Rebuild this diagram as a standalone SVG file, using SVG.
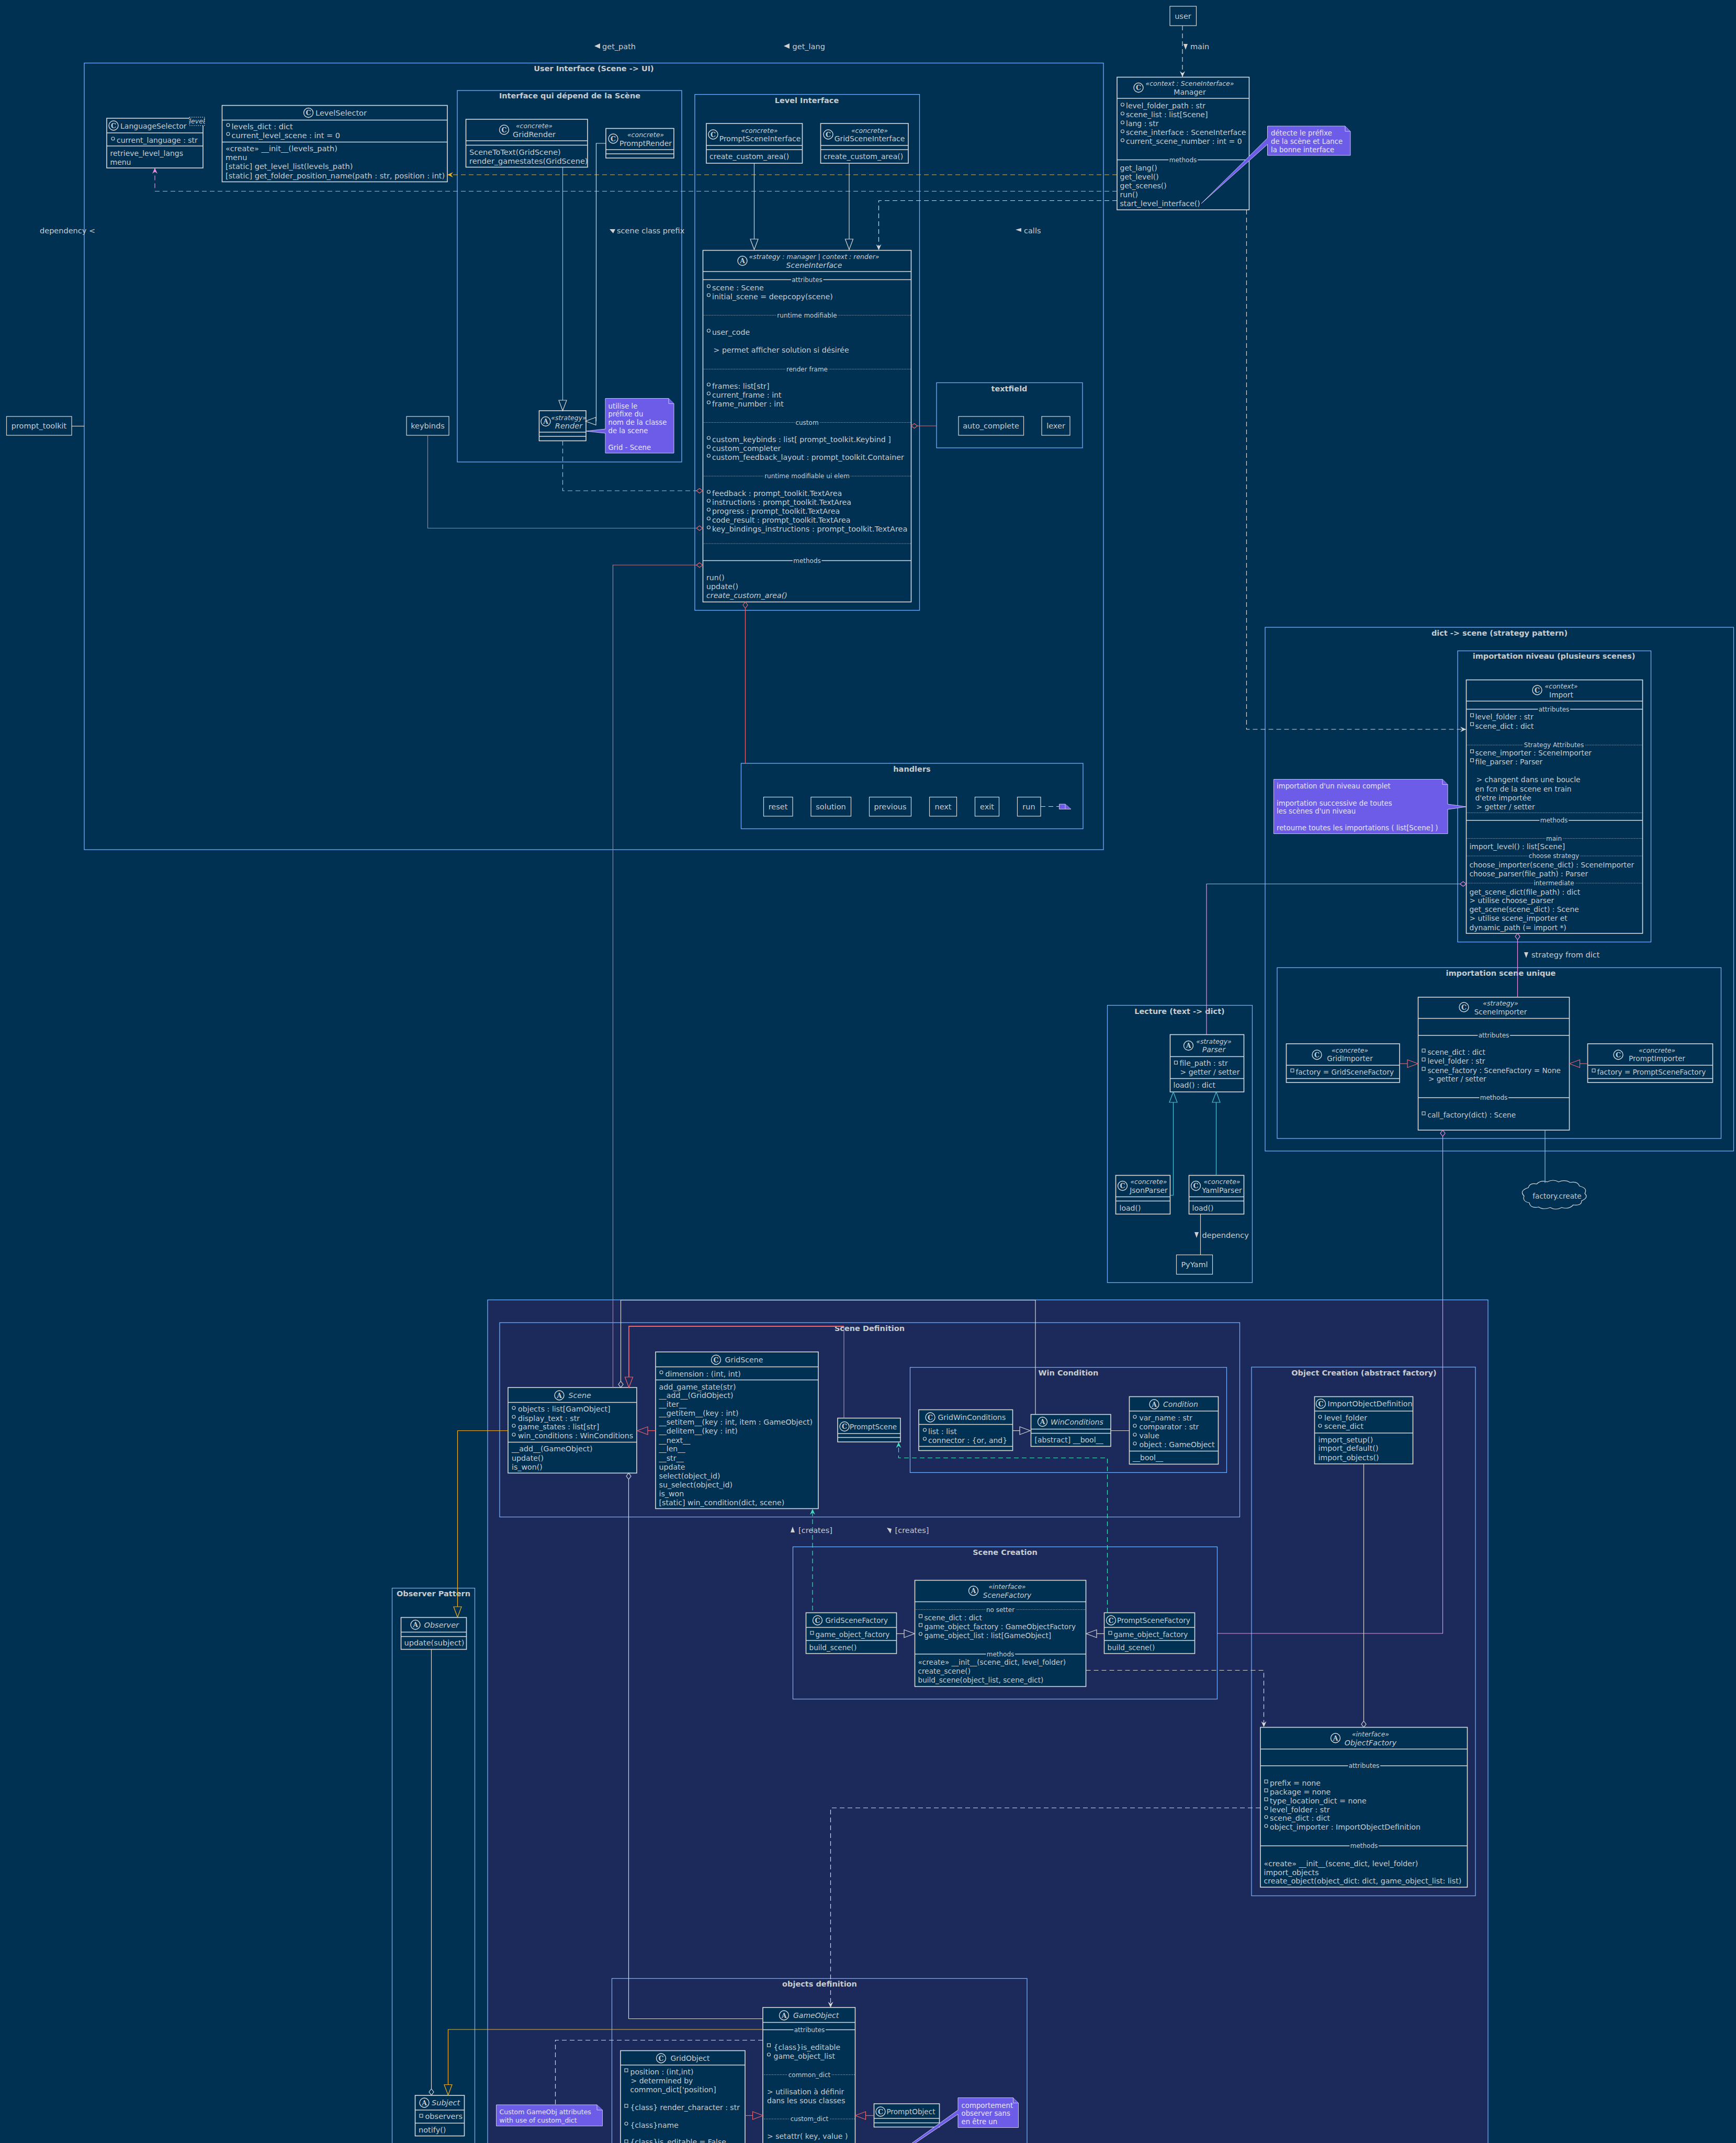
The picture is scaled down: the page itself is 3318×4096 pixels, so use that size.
<svg xmlns="http://www.w3.org/2000/svg" width="3318" height="4096" viewBox="0 0 3318 4096">
<style>
text{font-family:"DejaVu Sans",sans-serif;font-size:14.5px;fill:#C8CCCF}
.m{text-anchor:middle}
.i{font-style:italic}
.st{font-size:12.5px;font-style:italic;text-anchor:middle}
.b{font-weight:bold;font-size:14.5px;text-anchor:middle}
.sl{font-size:12px;text-anchor:middle;paint-order:stroke;stroke:#003153;stroke-width:5px}
.pkg{fill:none;stroke:#70B0FF;stroke-width:1.3}
.box{fill:#003153;stroke:#D9D9D9;stroke-width:1.6}
.sep{stroke:#D9D9D9;stroke-width:1.4;fill:none}
.dot{stroke:#D9D9D9;stroke-width:1;stroke-dasharray:1 2;fill:none}
.c{fill:#003153;stroke:#D9D9D9;stroke-width:1.4}
.l{font-weight:bold;font-size:12.5px;text-anchor:middle;font-family:"DejaVu Serif",serif}
.vc{fill:none;stroke:#D9D9D9;stroke-width:1.1}
.rect2{fill:none;stroke:#D9D9D9;stroke-width:1.2}
.note{fill:#6C5CE7;stroke:#C9C4F5;stroke-width:1}
.nt{font-size:13.3px;fill:#E8E6FA}
.f14 text{font-size:14px}
.f142 text{font-size:14.2px}
.f138 text{font-size:13.8px}
.f137 text{font-size:13.6px}
.f14 .st,.f142 .st,.f138 .st,.f137 .st{font-size:12.5px}
.f14 .sl,.f142 .sl,.f138 .sl,.f137 .sl{font-size:12px}
.f14 .l,.f142 .l,.f138 .l,.f137 .l{font-size:12.5px}
#note-custom text{font-size:12.5px}
.tri{fill:#D0D0D0;stroke:none}
.e{fill:none;stroke-width:1.2}
.w{stroke:#D9D9D9}.r{stroke:#F0656B}.p{stroke:#F08FE0}.o{stroke:#F5B21B}.t{stroke:#3FE0BE}.q{stroke:#4FC3D9}.a{stroke:#8FC4E8}
.d{stroke-dasharray:9 6}
</style>
<defs>
<marker id="gw" viewBox="-1 -9 23 18" refX="0" refY="0" markerWidth="23" markerHeight="18" markerUnits="userSpaceOnUse" orient="auto"><path d="M0,-7.5L20,0L0,7.5Z" fill="none" stroke="#D9D9D9" stroke-width="1.2"/></marker>
<marker id="gr" viewBox="-1 -9 23 18" refX="0" refY="0" markerWidth="23" markerHeight="18" markerUnits="userSpaceOnUse" orient="auto"><path d="M0,-7.5L20,0L0,7.5Z" fill="none" stroke="#F0656B" stroke-width="1.2"/></marker>
<marker id="go" viewBox="-1 -9 23 18" refX="0" refY="0" markerWidth="23" markerHeight="18" markerUnits="userSpaceOnUse" orient="auto"><path d="M0,-7.5L20,0L0,7.5Z" fill="none" stroke="#F5B21B" stroke-width="1.2"/></marker>
<marker id="gq" viewBox="-1 -9 23 18" refX="0" refY="0" markerWidth="23" markerHeight="18" markerUnits="userSpaceOnUse" orient="auto"><path d="M0,-7.5L20,0L0,7.5Z" fill="none" stroke="#4FC3D9" stroke-width="1.2"/></marker>
<marker id="dw" viewBox="-1 -6 15 12" refX="0" refY="0" markerWidth="15" markerHeight="12" markerUnits="userSpaceOnUse" orient="auto"><path d="M0,0L6,-4.5L12,0L6,4.5Z" fill="none" stroke="#D9D9D9" stroke-width="1.2"/></marker>
<marker id="dr" viewBox="-1 -6 15 12" refX="0" refY="0" markerWidth="15" markerHeight="12" markerUnits="userSpaceOnUse" orient="auto"><path d="M0,0L6,-4.5L12,0L6,4.5Z" fill="none" stroke="#F0656B" stroke-width="1.2"/></marker>
<marker id="dp" viewBox="-1 -6 15 12" refX="0" refY="0" markerWidth="15" markerHeight="12" markerUnits="userSpaceOnUse" orient="auto"><path d="M0,0L6,-4.5L12,0L6,4.5Z" fill="none" stroke="#F08FE0" stroke-width="1.2"/></marker>
<marker id="aw" viewBox="-12 -7 14 14" refX="0" refY="0" markerWidth="14" markerHeight="14" markerUnits="userSpaceOnUse" orient="auto"><path d="M-11,-5L0,0L-11,5L-7,0Z" fill="#D9D9D9"/></marker>
<marker id="ao" viewBox="-12 -7 14 14" refX="0" refY="0" markerWidth="14" markerHeight="14" markerUnits="userSpaceOnUse" orient="auto"><path d="M-11,-5L0,0L-11,5L-7,0Z" fill="#F5B21B"/></marker>
<marker id="ap" viewBox="-12 -7 14 14" refX="0" refY="0" markerWidth="14" markerHeight="14" markerUnits="userSpaceOnUse" orient="auto"><path d="M-11,-5L0,0L-11,5L-7,0Z" fill="#F08FE0"/></marker>
<marker id="at" viewBox="-12 -7 14 14" refX="0" refY="0" markerWidth="14" markerHeight="14" markerUnits="userSpaceOnUse" orient="auto"><path d="M-11,-5L0,0L-11,5L-7,0Z" fill="#3FE0BE"/></marker>
</defs>
<rect width="3318" height="4096" fill="#003153"/>

<g id="packages">
<rect id="pkg-lower" x="932" y="2484.5" width="1912" height="1700" fill="#1B2A5A" stroke="#70B0FF" stroke-width="1.3"/>
<rect id="pkg-ui" class="pkg" x="161" y="120.5" width="1948" height="1503.5"/><text class="b" x="1135" y="136">User Interface (Scene -&gt; UI)</text>
<rect id="pkg-render" class="pkg" x="874" y="173" width="429" height="710"/><text class="b" x="1089" y="188">Interface qui dépend de la Scène</text>
<rect id="pkg-level" class="pkg" x="1328" y="180.5" width="429.5" height="986"/><text class="b" x="1542" y="197">Level Interface</text>
<rect id="pkg-textfield" class="pkg" x="1790" y="731.5" width="279" height="124.5"/><text class="b" x="1929" y="748">textfield</text>
<rect id="pkg-handlers" class="pkg" x="1416.5" y="1459" width="653.5" height="125"/><text class="b" x="1743" y="1474.5">handlers</text>
<rect id="pkg-dict" class="pkg" x="2418" y="1199" width="895.5" height="1001"/><text class="b" x="2866" y="1214.5">dict -&gt; scene (strategy pattern)</text>
<rect id="pkg-niveau" class="pkg" x="2786" y="1244" width="369.5" height="556.5"/><text class="b" x="2970" y="1259">importation niveau (plusieurs scenes)</text>
<rect id="pkg-unique" class="pkg" x="2441" y="1849.5" width="848.5" height="326.5"/><text class="b" x="2868.5" y="1865">importation scene unique</text>
<rect id="pkg-lecture" class="pkg" x="2116.5" y="1921.5" width="277" height="530"/><text class="b" x="2254.5" y="1938">Lecture (text -&gt; dict)</text>
<rect id="pkg-scenedef" class="pkg" x="955" y="2528" width="1414.5" height="371.5"/><text class="b" x="1662" y="2544">Scene Definition</text>
<rect id="pkg-win" class="pkg" x="1739.5" y="2613.5" width="605" height="201"/><text class="b" x="2042" y="2629">Win Condition</text>
<rect id="pkg-creation" class="pkg" x="1515.5" y="2956.5" width="811" height="291"/><text class="b" x="1921" y="2972">Scene Creation</text>
<rect id="pkg-objcreation" class="pkg" x="2392" y="2613" width="428" height="1010.5"/><text class="b" x="2607" y="2629">Object Creation (abstract factory)</text>
<rect id="pkg-objects" class="pkg" x="1169.5" y="3781.5" width="793.5" height="400"/><text class="b" x="1566.5" y="3797">objects definition</text>
<rect id="pkg-observer" class="pkg" x="749.5" y="3035.5" width="158" height="1100"/><text class="b" x="828.5" y="3051">Observer Pattern</text>
</g>

<g id="language-selector" class="f14"><rect class="box" x="204" y="226" width="184" height="95"/><path class="sep" d="M204,254H388M204,279H388"/><circle class="c" cx="217" cy="240" r="9"/><text class="l" x="217" y="244.5">C</text><text x="230" y="246">LanguageSelector</text><rect x="362" y="224" width="29" height="16" fill="#003153" stroke="#D9D9D9" stroke-dasharray="2 2"/><text class="st" x="376.5" y="236">level</text><circle class="vc" cx="216" cy="265" r="3"/><text x="223" y="273">current_language : str</text><text x="210.5" y="298">retrieve_level_langs</text><text x="210.5" y="315">menu</text></g>

<g id="level-selector"><rect class="box" x="424.5" y="201.5" width="430.5" height="146"/><path class="sep" d="M424.5,229.5H855M424.5,271.5H855"/><circle class="c" cx="589.5" cy="215.5" r="9"/><text class="l" x="589.5" y="220">C</text><text class="m" x="652" y="221">LevelSelector</text><circle class="vc" cx="436" cy="239" r="3"/><text x="442.5" y="247">levels_dict : dict</text><circle class="vc" cx="436" cy="256" r="3"/><text x="442.5" y="264">current_level_scene : int = 0</text><text x="431" y="289">«create» __init__(levels_path)</text><text x="431" y="306">menu</text><text x="431" y="323">[static] get_level_list(levels_path)</text><text x="431" y="340.5">[static] get_folder_position_name(path : str, position : int)</text></g>

<g id="grid-render"><rect class="box" x="890.5" y="228" width="232.5" height="91.5"/><path class="sep" d="M890.5,269H1123M890.5,277.5H1123"/><circle class="c" cx="963.5" cy="248" r="9"/><text class="l" x="963.5" y="252.5">C</text><text class="st" x="1021" y="245">«concrete»</text><text class="m" x="1021" y="262">GridRender</text><text x="897" y="296">SceneToText(GridScene)</text><text x="897" y="313">render_gamestates(GridScene)</text></g>

<g id="prompt-render" class="f14"><rect class="box" x="1158" y="245.5" width="130" height="56.5"/><path class="sep" d="M1158,286H1288M1158,294H1288"/><circle class="c" cx="1172" cy="265" r="9"/><text class="l" x="1172" y="269.5">C</text><text class="st" x="1234" y="262">«concrete»</text><text class="m" x="1234" y="278.5">PromptRender</text></g>

<g id="render"><rect class="box" x="1030.5" y="785" width="89.5" height="57.5"/><path class="sep" d="M1030.5,826H1120M1030.5,834H1120"/><circle class="c" cx="1043" cy="805.5" r="9"/><text class="l" x="1043" y="810">A</text><text class="st" x="1087" y="802.5">«strategy»</text><text class="m i" x="1087" y="819">Render</text></g>

<g id="note-render"><path class="note" d="M1157,761.5H1278L1288,771.5V866H1157V828L1120,824L1157,820Z"/><path class="note" d="M1278,761.5V771.5H1288"/><text class="nt" x="1162.5" y="780.5">utilise le</text><text class="nt" x="1162.5" y="796">préfixe du</text><text class="nt" x="1162.5" y="812">nom de la classe</text><text class="nt" x="1162.5" y="828">de la scene</text><text class="nt" x="1162.5" y="860">Grid - Scene</text></g>

<g id="prompt-toolkit"><rect class="rect2" x="12.5" y="796" width="124.5" height="36"/><text class="m" x="74.5" y="819">prompt_toolkit</text></g>
<g id="keybinds"><rect class="rect2" x="777" y="796" width="81" height="36"/><text class="m" x="817.5" y="819">keybinds</text></g>

<g id="prompt-scene-interface" class="f14"><rect class="box" x="1350" y="236" width="183.5" height="76"/><path class="sep" d="M1350,278H1533.5M1350,286H1533.5"/><circle class="c" cx="1363" cy="257" r="9"/><text class="l" x="1363" y="261.5">C</text><text class="st" x="1451.5" y="253.5">«concrete»</text><text class="m" x="1452.5" y="270">PromptSceneInterface</text><text x="1356" y="304">create_custom_area()</text></g>
<g id="grid-scene-interface" class="f14"><rect class="box" x="1568.5" y="236" width="167.5" height="76"/><path class="sep" d="M1568.5,278H1736M1568.5,286H1736"/><circle class="c" cx="1583" cy="257" r="9"/><text class="l" x="1583" y="261.5">C</text><text class="st" x="1662" y="253.5">«concrete»</text><text class="m" x="1662" y="270">GridSceneInterface</text><text x="1574" y="304">create_custom_area()</text></g>

<g id="scene-interface" class="f142"><rect class="box" x="1343.5" y="478.5" width="398" height="672"/><path class="sep" d="M1343.5,519H1741.5M1343.5,534.5H1741.5M1343.5,1071.5H1741.5"/><path class="dot" d="M1343.5,602.5H1741.5M1343.5,705.5H1741.5M1343.5,807.5H1741.5M1343.5,910H1741.5M1343.5,1039H1741.5"/><circle class="c" cx="1419" cy="498.5" r="9"/><text class="l" x="1419" y="503">A</text><text class="st" x="1556" y="495">«strategy : manager | context : render»</text><text class="m i" x="1556" y="512">SceneInterface</text>
<text class="sl" x="1542.5" y="538.5">attributes</text>
<circle class="vc" cx="1354.5" cy="547" r="3"/><text x="1361" y="554.5">scene : Scene</text><circle class="vc" cx="1354.5" cy="564" r="3"/><text x="1361" y="572">initial_scene = deepcopy(scene)</text>
<text class="sl" x="1542.5" y="606.5">runtime modifiable</text><circle class="vc" cx="1354.5" cy="632" r="3"/><text x="1361" y="640">user_code</text><text x="1363.5" y="674">&gt; permet afficher solution si désirée</text>
<text class="sl" x="1542.5" y="709.5">render frame</text><circle class="vc" cx="1354.5" cy="735" r="3"/><text x="1361" y="743">frames: list[str]</text><circle class="vc" cx="1354.5" cy="752" r="3"/><text x="1361" y="760">current_frame : int</text><circle class="vc" cx="1354.5" cy="769" r="3"/><text x="1361" y="776.5">frame_number : int</text>
<text class="sl" x="1542.5" y="811.5">custom</text><circle class="vc" cx="1354.5" cy="837" r="3"/><text x="1361" y="845">custom_keybinds : list[ prompt_toolkit.Keybind ]</text><circle class="vc" cx="1354.5" cy="854" r="3"/><text x="1361" y="862">custom_completer</text><circle class="vc" cx="1354.5" cy="871" r="3"/><text x="1361" y="878.5">custom_feedback_layout : prompt_toolkit.Container</text>
<text class="sl" x="1542.5" y="914">runtime modifiable ui elem</text><circle class="vc" cx="1354.5" cy="940" r="3"/><text x="1361" y="947.5">feedback : prompt_toolkit.TextArea</text><circle class="vc" cx="1354.5" cy="957" r="3"/><text x="1361" y="965">instructions : prompt_toolkit.TextArea</text><circle class="vc" cx="1354.5" cy="974" r="3"/><text x="1361" y="982">progress : prompt_toolkit.TextArea</text><circle class="vc" cx="1354.5" cy="991" r="3"/><text x="1361" y="999">code_result : prompt_toolkit.TextArea</text><circle class="vc" cx="1354.5" cy="1008" r="3"/><text x="1361" y="1016" style="font-size:14.5px">key_bindings_instructions : prompt_toolkit.TextArea</text>
<text class="sl" x="1542.5" y="1075.5">methods</text><text x="1350" y="1109">run()</text><text x="1350" y="1126">update()</text><text class="i" x="1350" y="1143">create_custom_area()</text></g>

<g id="auto-complete"><rect class="rect2" x="1832" y="796" width="124.5" height="36"/><text class="m" x="1894" y="819">auto_complete</text></g>
<g id="lexer"><rect class="rect2" x="1991" y="796" width="54" height="36"/><text class="m" x="2018" y="819">lexer</text></g>
<g id="reset"><rect class="rect2" x="1459.5" y="1523.5" width="55.5" height="36.5"/><text class="m" x="1487" y="1547">reset</text></g>
<g id="solution"><rect class="rect2" x="1550" y="1523.5" width="76.5" height="36.5"/><text class="m" x="1588" y="1547">solution</text></g>
<g id="previous"><rect class="rect2" x="1661.5" y="1523.5" width="80" height="36.5"/><text class="m" x="1701.5" y="1547">previous</text></g>
<g id="next"><rect class="rect2" x="1776.5" y="1523.5" width="52" height="36.5"/><text class="m" x="1802.5" y="1547">next</text></g>
<g id="exit"><rect class="rect2" x="1863.5" y="1523.5" width="46" height="36.5"/><text class="m" x="1886.5" y="1547">exit</text></g>
<g id="run"><rect class="rect2" x="1944.5" y="1523.5" width="44.5" height="36.5"/><text class="m" x="1966.5" y="1547">run</text></g>
<g id="note-run"><path class="note" d="M2024.5,1537H2036L2047,1546.5H2024.5Z"/><path class="note" d="M2036,1537V1546.5H2047"/></g>

<g id="user"><rect class="rect2" x="2236" y="12" width="50.5" height="37"/><text class="m" x="2261" y="36">user</text></g>

<g id="manager" class="f14"><rect class="box" x="2135" y="147.5" width="252.5" height="253.5"/><path class="sep" d="M2135,188H2387.5M2135,305.5H2387.5"/><circle class="c" cx="2176" cy="167.5" r="9"/><text class="l" x="2176" y="172">C</text><text class="st" x="2274" y="164">«context : SceneInterface»</text><text class="m" x="2274" y="181">Manager</text>
<circle class="vc" cx="2145.5" cy="200" r="3"/><text x="2152" y="207">level_folder_path : str</text><circle class="vc" cx="2145.5" cy="217" r="3"/><text x="2152" y="224">scene_list : list[Scene]</text><circle class="vc" cx="2145.5" cy="234" r="3"/><text x="2152" y="241">lang : str</text><circle class="vc" cx="2145.5" cy="251" r="3"/><text x="2152" y="258">scene_interface : SceneInterface</text><circle class="vc" cx="2145.5" cy="268" r="3"/><text x="2152" y="275">current_scene_number : int = 0</text>
<text class="sl" x="2261" y="309.5">methods</text><text x="2140.5" y="326">get_lang()</text><text x="2140.5" y="343">get_level()</text><text x="2140.5" y="360">get_scenes()</text><text x="2140.5" y="377">run()</text><text x="2140.5" y="394">start_level_interface()</text></g>

<g id="note-manager"><path class="note" d="M2422.5,241H2571L2581,251V297H2422.5V276L2296,389L2422.5,264Z"/><path class="note" d="M2571,241V251H2581"/><text class="nt" x="2429" y="259">détecte le préfixe</text><text class="nt" x="2429" y="275">de la scène et Lance</text><text class="nt" x="2429" y="291">la bonne interface</text></g>

<g id="import" class="f138"><rect class="box" x="2802.5" y="1299.5" width="337" height="484.5"/><path class="sep" d="M2802.5,1340H3139.5M2802.5,1355.5H3139.5M2802.5,1568H3139.5"/><path class="dot" d="M2802.5,1424H3139.5M2802.5,1553.5H3139.5M2802.5,1602.5H3139.5M2802.5,1636H3139.5M2802.5,1688H3139.5"/><circle class="c" cx="2938" cy="1319" r="9"/><text class="l" x="2938" y="1323.5">C</text><text class="st" x="2984" y="1316">«context»</text><text class="m" x="2984" y="1333">Import</text>
<text class="sl" x="2970" y="1359.5">attributes</text><rect class="vc" x="2810.5" y="1364" width="6" height="6"/><text x="2819.5" y="1375">level_folder : str</text><rect class="vc" x="2810.5" y="1381" width="6" height="6"/><text x="2819.5" y="1393">scene_dict : dict</text>
<text class="sl" x="2970" y="1428">Strategy Attributes</text><rect class="vc" x="2810.5" y="1433" width="6" height="6"/><text x="2819.5" y="1444">scene_importer : SceneImporter</text><rect class="vc" x="2810.5" y="1450" width="6" height="6"/><text x="2819.5" y="1461">file_parser : Parser</text>
<text x="2821.5" y="1494.5">&gt; changent dans une boucle</text><text x="2819.5" y="1513">en fcn de la scene en train</text><text x="2819.5" y="1529.5">d'etre importée</text><text x="2821.5" y="1547">&gt; getter / setter</text>
<text class="sl" x="2970" y="1572">methods</text><text class="sl" x="2970" y="1606.5">main</text><text x="2808.5" y="1623">import_level() : list[Scene]</text><text class="sl" x="2970" y="1640">choose strategy</text><text x="2808.5" y="1658">choose_importer(scene_dict) : SceneImporter</text><text x="2808.5" y="1675">choose_parser(file_path) : Parser</text><text class="sl" x="2970" y="1692">intermediate</text><text x="2808.5" y="1709.5">get_scene_dict(file_path) : dict</text><text x="2808.5" y="1726">&gt; utilise choose_parser</text><text x="2808.5" y="1743">get_scene(scene_dict) : Scene</text><text x="2808.5" y="1760">&gt; utilise scene_importer et</text><text x="2808.5" y="1777.5">dynamic_path (= import *)</text></g>

<g id="note-import"><path class="note" d="M2434.5,1489.5H2757L2767,1499.5V1537L2802.5,1542L2767,1547V1593.5H2434.5Z"/><path class="note" d="M2757,1489.5V1499.5H2767"/><text class="nt" x="2440" y="1507">importation d'un niveau complet</text><text class="nt" x="2440" y="1539.5">importation successive de toutes</text><text class="nt" x="2440" y="1555">les scènes d'un niveau</text><text class="nt" x="2440" y="1586.5">retourne toutes les importations ( list[Scene] )</text></g>

<g id="scene-importer" class="f137"><rect class="box" x="2710.5" y="1906" width="289" height="254"/><path class="sep" d="M2710.5,1946.5H2999.5M2710.5,1979H2999.5M2710.5,2098H2999.5"/><circle class="c" cx="2798" cy="1925" r="9"/><text class="l" x="2798" y="1929.5">C</text><text class="st" x="2868" y="1922">«strategy»</text><text class="m" x="2868" y="1939">SceneImporter</text>
<text class="sl" x="2855" y="1983">attributes</text><rect class="vc" x="2718" y="2005" width="6" height="6"/><text x="2728.5" y="2016">scene_dict : dict</text><rect class="vc" x="2718" y="2022" width="6" height="6"/><text x="2728.5" y="2033">level_folder : str</text><rect class="vc" x="2718" y="2040" width="6" height="6"/><text x="2728.5" y="2050.5">scene_factory : SceneFactory = None</text><text x="2730" y="2067">&gt; getter / setter</text>
<text class="sl" x="2855" y="2102">methods</text><rect class="vc" x="2718" y="2125" width="6" height="6"/><text x="2728.5" y="2136">call_factory(dict) : Scene</text></g>

<g id="grid-importer" class="f137"><rect class="box" x="2458.5" y="1995" width="216.5" height="74"/><path class="sep" d="M2458.5,2036H2675M2458.5,2061.5H2675"/><circle class="c" cx="2517" cy="2016" r="9"/><text class="l" x="2517" y="2020.5">C</text><text class="st" x="2580" y="2012">«concrete»</text><text class="m" x="2580" y="2028">GridImporter</text><rect class="vc" x="2467" y="2043" width="6" height="6"/><text x="2476.5" y="2054">factory = GridSceneFactory</text></g>
<g id="prompt-importer" class="f137"><rect class="box" x="3034.5" y="1995" width="239" height="74"/><path class="sep" d="M3034.5,2036H3273.5M3034.5,2061.5H3273.5"/><circle class="c" cx="3093" cy="2016" r="9"/><text class="l" x="3093" y="2020.5">C</text><text class="st" x="3167" y="2012">«concrete»</text><text class="m" x="3167" y="2028">PromptImporter</text><rect class="vc" x="3043" y="2043" width="6" height="6"/><text x="3052.5" y="2054">factory = PromptSceneFactory</text></g>

<g id="factory-create" class="f137"><path transform="translate(5,0)" d="M2916,2270q3,-10 16,-7q8,-8 20,-4q12,-6 22,0q12,-5 22,1q14,-3 18,7q16,4 10,14q8,8 -6,14q0,10 -16,8q-8,9 -22,5q-12,6 -22,0q-14,5 -22,-1q-16,3 -18,-8q-14,-3 -10,-13q-10,-10 8,-16z" fill="#003153" stroke="#D9D9D9" stroke-width="1.2"/><text class="m" x="2976" y="2291">factory.create</text></g>

<g id="parser" class="f14"><rect class="box" x="2236.5" y="1977.5" width="141" height="109.5"/><path class="sep" d="M2236.5,2019.5H2377.5M2236.5,2061.5H2377.5"/><circle class="c" cx="2271.5" cy="1998.5" r="9"/><text class="l" x="2271.5" y="2003">A</text><text class="st" x="2320" y="1995">«strategy»</text><text class="m i" x="2320" y="2011">Parser</text><rect class="vc" x="2244.5" y="2028" width="6" height="6"/><text x="2254.5" y="2037">file_path : str</text><text x="2255.5" y="2054">&gt; getter / setter</text><text x="2242.5" y="2079">load() : dict</text></g>
<g id="json-parser" class="f14"><rect class="box" x="2132.5" y="2246.5" width="104" height="74"/><path class="sep" d="M2132.5,2287.5H2236.5M2132.5,2295.5H2236.5"/><circle class="c" cx="2145.5" cy="2266.5" r="9"/><text class="l" x="2145.5" y="2271">C</text><text class="st" x="2195.5" y="2263">«concrete»</text><text class="m" x="2195.5" y="2280">JsonParser</text><text x="2139.5" y="2314">load()</text></g>
<g id="yaml-parser" class="f14"><rect class="box" x="2272.5" y="2246.5" width="105" height="74"/><path class="sep" d="M2272.5,2287.5H2377.5M2272.5,2295.5H2377.5"/><circle class="c" cx="2285.5" cy="2266.5" r="9"/><text class="l" x="2285.5" y="2271">C</text><text class="st" x="2335.5" y="2263">«concrete»</text><text class="m" x="2335.5" y="2280">YamlParser</text><text x="2278.5" y="2314">load()</text></g>
<g id="pyyaml"><rect class="rect2" x="2248.5" y="2398.5" width="69" height="37"/><text class="m" x="2283" y="2422">PyYaml</text></g>

<g id="scene" class="f142"><rect class="box" x="971" y="2652" width="246" height="163.5"/><path class="sep" d="M971,2680.5H1217M971,2756.5H1217"/><circle class="c" cx="1069" cy="2667" r="9"/><text class="l" x="1069" y="2671.5">A</text><text class="i" x="1086.5" y="2672">Scene</text><circle class="vc" cx="982" cy="2691" r="3"/><text x="990" y="2698">objects : list[GamObject]</text><circle class="vc" cx="982" cy="2708" r="3"/><text x="990" y="2715.5">display_text : str</text><circle class="vc" cx="982" cy="2725" r="3"/><text x="990" y="2732">game_states : list[str]</text><circle class="vc" cx="982" cy="2742" r="3"/><text x="990" y="2749">win_conditions : WinConditions</text><text x="978" y="2774">__add__(GameObject)</text><text x="978" y="2791.5">update()</text><text x="978" y="2808.5">is_won()</text></g>

<g id="grid-scene" class="f142"><rect class="box" x="1253" y="2584" width="311" height="299.5"/><path class="sep" d="M1253,2612.5H1564M1253,2637.5H1564"/><circle class="c" cx="1368.5" cy="2599" r="9"/><text class="l" x="1368.5" y="2603.5">C</text><text class="m" x="1422" y="2604">GridScene</text><circle class="vc" cx="1264" cy="2623" r="3"/><text x="1271.5" y="2630.5">dimension : (int, int)</text>
<text x="1259.5" y="2655.5">add_game_state(str)</text><text x="1259.5" y="2672">__add__(GridObject)</text><text x="1259.5" y="2689">__iter__</text><text x="1259.5" y="2706">__getitem__(key : int)</text><text x="1259.5" y="2723">__setitem__(key : int, item : GameObject)</text><text x="1259.5" y="2740">__delitem__(key : int)</text><text x="1259.5" y="2757.5">__next__</text><text x="1259.5" y="2774">__len__</text><text x="1259.5" y="2791.5">__str__</text><text x="1259.5" y="2808.5">update</text><text x="1259.5" y="2825.5">select(object_id)</text><text x="1259.5" y="2842.5">su_select(object_id)</text><text x="1259.5" y="2859.5">is_won</text><text x="1259.5" y="2876.5">[static] win_condition(dict, scene)</text></g>

<g id="prompt-scene" class="f137"><rect class="box" x="1601" y="2710.5" width="120" height="45.5"/><path class="sep" d="M1601,2740H1721M1601,2747.5H1721"/><circle class="c" cx="1614" cy="2726.5" r="9"/><text class="l" x="1614" y="2731">C</text><text x="1624" y="2731.5">PromptScene</text></g>

<g id="grid-win-conditions" class="f14"><rect class="box" x="1756" y="2694.5" width="179.5" height="78"/><path class="sep" d="M1756,2722.5H1935.5M1756,2764.5H1935.5"/><circle class="c" cx="1778" cy="2709" r="9"/><text class="l" x="1778" y="2713.5">C</text><text x="1792.5" y="2714">GridWinConditions</text><circle class="vc" cx="1767.5" cy="2733" r="3"/><text x="1774" y="2741">list : list</text><circle class="vc" cx="1767.5" cy="2750" r="3"/><text x="1774" y="2758">connector : {or, and}</text></g>
<g id="win-conditions" class="f14"><rect class="box" x="1970.5" y="2703.5" width="152.5" height="61"/><path class="sep" d="M1970.5,2731.5H2123M1970.5,2739.5H2123"/><circle class="c" cx="1992.5" cy="2717.5" r="9"/><text class="l" x="1992.5" y="2722">A</text><text class="i" x="2008" y="2722.5">WinConditions</text><text x="1977.5" y="2757">[abstract] __bool__</text></g>
<g id="condition" class="f14"><rect class="box" x="2158.5" y="2669.5" width="170" height="129"/><path class="sep" d="M2158.5,2697H2328.5M2158.5,2773.5H2328.5"/><circle class="c" cx="2206" cy="2684" r="9"/><text class="l" x="2206" y="2688.5">A</text><text class="i" x="2223" y="2689">Condition</text><circle class="vc" cx="2169" cy="2708" r="3"/><text x="2177.5" y="2715">var_name : str</text><circle class="vc" cx="2169" cy="2725" r="3"/><text x="2177.5" y="2732">comparator : str</text><circle class="vc" cx="2169" cy="2742" r="3"/><text x="2177.5" y="2749">value</text><circle class="vc" cx="2169" cy="2759" r="3"/><text x="2177.5" y="2766">object : GameObject</text><text x="2165" y="2791">__bool__</text></g>

<g id="scene-factory" class="f137"><rect class="box" x="1748.5" y="3020.5" width="327" height="203"/><path class="sep" d="M1748.5,3061.5H2075.5M1748.5,3161.5H2075.5"/><path class="dot" d="M1748.5,3076.5H2075.5"/><circle class="c" cx="1860.5" cy="3040.5" r="9"/><text class="l" x="1860.5" y="3045">A</text><text class="st" x="1925" y="3037">«interface»</text><text class="m i" x="1925" y="3054">SceneFactory</text><text class="sl" x="1912" y="3080.5">no setter</text>
<rect class="vc" x="1756.5" y="3086" width="6" height="6"/><text x="1766.5" y="3097">scene_dict : dict</text><rect class="vc" x="1756.5" y="3103" width="6" height="6"/><text x="1766.5" y="3114">game_object_factory : GameObjectFactory</text><circle class="vc" cx="1759.5" cy="3123" r="3"/><text x="1766.5" y="3131">game_object_list : list[GameObject]</text>
<text class="sl" x="1912" y="3165.5">methods</text><text x="1754.5" y="3182">«create» __init__(scene_dict, level_folder)</text><text x="1754.5" y="3199">create_scene()</text><text x="1754.5" y="3216">build_scene(object_list, scene_dict)</text></g>
<g id="grid-scene-factory" class="f137"><rect class="box" x="1540.5" y="3082.5" width="173" height="78"/><path class="sep" d="M1540.5,3110.5H1713.5M1540.5,3135.5H1713.5"/><circle class="c" cx="1562.5" cy="3097" r="9"/><text class="l" x="1562.5" y="3101.5">C</text><text x="1577.5" y="3102">GridSceneFactory</text><rect class="vc" x="1549" y="3118" width="6" height="6"/><text x="1558.5" y="3129">game_object_factory</text><text x="1546.5" y="3154">build_scene()</text></g>
<g id="prompt-scene-factory" class="f137"><rect class="box" x="2110.5" y="3082.5" width="173" height="78"/><path class="sep" d="M2110.5,3110.5H2283.5M2110.5,3135.5H2283.5"/><circle class="c" cx="2123.5" cy="3097" r="9"/><text class="l" x="2123.5" y="3101.5">C</text><text x="2135" y="3102">PromptSceneFactory</text><rect class="vc" x="2119" y="3118" width="6" height="6"/><text x="2128.5" y="3129">game_object_factory</text><text x="2116.5" y="3154">build_scene()</text></g>

<g id="import-object-definition" class="f142"><rect class="box" x="2512.5" y="2669.5" width="188" height="128.5"/><path class="sep" d="M2512.5,2697H2700.5M2512.5,2739H2700.5"/><circle class="c" cx="2524.5" cy="2683" r="9"/><text class="l" x="2524.5" y="2687.5">C</text><text x="2537.5" y="2688">ImportObjectDefinition</text><circle class="vc" cx="2523" cy="2708" r="3"/><text x="2531" y="2714.5">level_folder</text><circle class="vc" cx="2523" cy="2725" r="3"/><text x="2531" y="2731">scene_dict</text><text x="2519.5" y="2756.5">import_setup()</text><text x="2519.5" y="2773">import_default()</text><text x="2519.5" y="2791">import_objects()</text></g>

<g id="object-factory" class="f142"><rect class="box" x="2409" y="3301.5" width="395.5" height="305.5"/><path class="sep" d="M2409,3343H2804.5M2409,3375H2804.5M2409,3528H2804.5"/><circle class="c" cx="2552.5" cy="3322" r="9"/><text class="l" x="2552.5" y="3326.5">A</text><text class="st" x="2619.5" y="3318.5">«interface»</text><text class="m i" x="2619.5" y="3335.5">ObjectFactory</text><text class="sl" x="2607" y="3379">attributes</text>
<rect class="vc" x="2417" y="3402" width="6" height="6"/><text x="2427" y="3413">prefix = none</text><rect class="vc" x="2417" y="3419" width="6" height="6"/><text x="2427" y="3429.5">package = none</text><rect class="vc" x="2417" y="3436" width="6" height="6"/><text x="2427" y="3446.5">type_location_dict = none</text><circle class="vc" cx="2420" cy="3456" r="3"/><text x="2427" y="3463.5">level_folder : str</text><circle class="vc" cx="2420" cy="3473" r="3"/><text x="2427" y="3480">scene_dict : dict</text><circle class="vc" cx="2420" cy="3490" r="3"/><text x="2427" y="3497">object_importer : ImportObjectDefinition</text>
<text class="sl" x="2607" y="3532">methods</text><text x="2415.5" y="3566.5">«create» __init__(scene_dict, level_folder)</text><text x="2415.5" y="3583.5">import_objects</text><text x="2415.5" y="3600">create_object(object_dict: dict, game_object_list: list)</text></g>

<g id="observer"><rect class="box" x="766.5" y="3091.5" width="125" height="61"/><path class="sep" d="M766.5,3119.5H891.5M766.5,3128H891.5"/><circle class="c" cx="794" cy="3105.5" r="9"/><text class="l" x="794" y="3110">A</text><text class="i" x="810.5" y="3110.5">Observer</text><text x="772.5" y="3145">update(subject)</text></g>
<g id="subject"><rect class="box" x="793.5" y="4005" width="94" height="77.5"/><path class="sep" d="M793.5,4033H887.5M793.5,4058H887.5"/><circle class="c" cx="811" cy="4019" r="9"/><text class="l" x="811" y="4023.5">A</text><text class="i" x="825" y="4024">Subject</text><rect class="vc" x="802" y="4041" width="6" height="6"/><text x="812.5" y="4050">observers</text><text x="800" y="4075.5">notify()</text></g>
<g id="note-custom"><path class="note" d="M948.5,4023H1141L1151.5,4033V4063.5H948.5Z"/><path class="note" d="M1141,4023V4033H1151.5"/><text class="nt" x="954.5" y="4040.5">Custom GameObj attributes</text><text class="nt" x="954.5" y="4056.5">with use of custom_dict</text></g>

<g id="grid-object" class="f14"><rect class="box" x="1186" y="3919.5" width="238" height="190"/><path class="sep" d="M1186,3947H1424"/><circle class="c" cx="1263.5" cy="3934" r="9"/><text class="l" x="1263.5" y="3938.5">C</text><text x="1281.5" y="3939">GridObject</text><rect class="vc" x="1194" y="3954" width="6" height="6"/><text x="1204.5" y="3965">position : (int,int)</text><text x="1205.5" y="3982">&gt; determined by</text><text x="1204.5" y="3999">common_dict['position]</text><rect class="vc" x="1194" y="4022" width="6" height="6"/><text x="1204.5" y="4033">{class} render_character : str</text><circle class="vc" cx="1197" cy="4059" r="3"/><text x="1204.5" y="4067">{class}name</text><rect class="vc" x="1194" y="4090" width="6" height="6"/><text x="1204.5" y="4099">{class}is_editable = False</text></g>
<g id="game-object" class="f14"><rect class="box" x="1458" y="3837" width="176.5" height="300"/><path class="sep" d="M1458,3865.5H1634.5M1458,3879.5H1634.5"/><path class="dot" d="M1458,3965.5H1634.5M1458,4050H1634.5"/><circle class="c" cx="1498.5" cy="3852" r="9"/><text class="l" x="1498.5" y="3856.5">A</text><text class="i" x="1516" y="3857">GameObject</text><text class="sl" x="1547" y="3883.5">attributes</text><rect class="vc" x="1466.5" y="3906" width="6" height="6"/><text x="1478.5" y="3917.5">{class}is_editable</text><circle class="vc" cx="1469.5" cy="3927" r="3"/><text x="1478.5" y="3934.5">game_object_list</text><text class="sl" x="1547" y="3969.5">common_dict</text><text x="1466" y="4003">&gt; utilisation à définir</text><text x="1466" y="4020">dans les sous classes</text><text class="sl" x="1547" y="4054">custom_dict</text><text x="1466" y="4088">&gt; setattr( key, value )</text></g>
<g id="prompt-object" class="f137"><rect class="box" x="1670.5" y="4021" width="125" height="44.5"/><path class="sep" d="M1670.5,4049H1795.5M1670.5,4057.5H1795.5"/><circle class="c" cx="1683" cy="4036" r="9"/><text class="l" x="1683" y="4040.5">C</text><text x="1694.5" y="4041">PromptObject</text></g>
<g id="note-object"><path class="note" d="M1831,4009.5H1936.5L1946.5,4019.5V4066.5H1831V4041L1640,4170L1831,4033Z"/><path class="note" d="M1936.5,4009.5V4019.5H1946.5"/><text class="nt" x="1837.5" y="4029">comportement</text><text class="nt" x="1837.5" y="4044">observer sans</text><text class="nt" x="1837.5" y="4059.5">en être un</text></g>

<g id="connectors">
<path class="e w d" d="M2260,49V147" marker-end="url(#aw)"/>
<path class="e o d" d="M2135,334H855" marker-end="url(#ao)"/>
<path class="e p d" d="M2135,365.5H296V321" marker-end="url(#ap)"/>
<path class="e w d" d="M2135,383.5H1679.5V478" marker-end="url(#aw)"/>
<path class="e w d" d="M2382.5,401V1394H2802" marker-end="url(#aw)"/>
<path class="e w" d="M137,814.5H161"/>
<path class="e a" d="M1075.5,319.5V765" marker-end="url(#gw)"/>
<path class="e w" d="M1158,274H1139.5V805H1139" marker-end="url(#gw)"/>
<path class="e a d" d="M1075.5,842.5V938H1331" marker-end="url(#dr)"/>
<path class="e w" d="M1441.5,312V457" marker-end="url(#gw)"/>
<path class="e w" d="M1623,312V457" marker-end="url(#gw)"/>
<path class="e r" d="M1790,814H1753.5" marker-end="url(#dr)"/>
<path class="e r" d="M817.5,832V1009.5H1331" marker-end="url(#dr)"/>
<path class="e r" d="M1171.5,2652V1080H1331" marker-end="url(#dr)"/>
<path class="e r" d="M1424.5,1459V1162.5" marker-end="url(#dr)"/>
<path class="e w d" d="M1989,1541.5H2024"/>
<path class="e p" d="M2306,1977V1689.5H2790.5" marker-end="url(#dp)"/>
<path class="e p" d="M2900.5,1906V1796" marker-end="url(#dp)"/>
<path class="e r" d="M2675,2033H2690" marker-end="url(#gr)"/>
<path class="e r" d="M3034.5,2033H3019.5" marker-end="url(#gr)"/>
<path class="e q" d="M2237,2284.5H2242.5V2107" marker-end="url(#gq)"/>
<path class="e q" d="M2324.5,2246.5V2107" marker-end="url(#gq)"/>
<path class="e w" d="M2294.5,2320.5V2398.5"/>
<path class="e a" d="M2953,2160V2261"/>
<path class="e p" d="M2327,3122H2757.5V2172" marker-end="url(#dp)"/>
<path class="e r" d="M1253,2734.5H1238" marker-end="url(#gr)"/>
<path class="e r" style="stroke-width:1.8" d="M1613,2535H1202V2632" marker-end="url(#gr)"/>
<path class="e" stroke="#A595B5" d="M1613,2535V2710.5"/>
<path class="e w" d="M1979,2703V2485H1186.5V2640" marker-end="url(#dw)"/>
<path class="e o" d="M971,2734.5H874.5V3071" marker-end="url(#go)"/>
<path class="e w" d="M1201.5,3858.5V2827.5" marker-end="url(#dw)"/>
<path class="e w" d="M1201.5,3858.5H1458"/>
<path class="e w" d="M1935.5,2734.5H1949" marker-end="url(#gw)"/>
<path class="e w" d="M2123,2734.5H2158.5"/>
<path class="e t d" d="M1553,3078V2884" marker-end="url(#at)"/>
<path class="e t d" d="M2116.5,3082V2786.5H1717.5V2756.5" marker-end="url(#at)"/>
<path class="e w" d="M1713.5,3122.5H1728" marker-end="url(#gw)"/>
<path class="e w" d="M2110.5,3122.5H2096" marker-end="url(#gw)"/>
<path class="e w d" d="M2075.5,3192.5H2415.5V3301" marker-end="url(#aw)"/>
<path class="e w" d="M2606.5,2798V3289.5" marker-end="url(#dw)"/>
<path class="e w d" d="M2409,3455.5H1587.5V3837" marker-end="url(#aw)"/>
<path class="e o" d="M1458,3879H856.5V3984.5" marker-end="url(#go)"/>
<path class="e w d" d="M1458,3899.5H1061.5V4023"/>
<path class="e w" d="M824.5,3152.5V3992.5" marker-end="url(#dw)"/>
<path class="e r" d="M1424,4043.5H1438.5" marker-end="url(#gr)"/>
<path class="e r" d="M1670.5,4043.5H1654.5" marker-end="url(#gr)"/>
</g>

<g id="labels">
<polygon class="tri" points="1136,88 1147,83 1147,93"/><text x="1151" y="93.5">get_path</text>
<polygon class="tri" points="1498,88 1509,83 1509,93"/><text x="1514.5" y="93.5">get_lang</text>
<polygon class="tri" points="2266,95 2262,84 2270,84"/><text x="2275" y="93.5">main</text>
<text x="76" y="446">dependency &lt;</text>
<polygon class="tri" points="1172,446 1165,438 1176,438"/><text x="1179" y="446">scene class prefix</text>
<polygon class="tri" points="1941,439 1952,436 1952,443"/><text x="1957" y="446">calls</text>
<polygon class="tri" points="2917,1831 2913,1820 2921,1820"/><text x="2927" y="1830">strategy from dict</text>
<polygon class="tri" points="2287,2366 2283,2355 2291,2355"/><text x="2297.5" y="2365.5">dependency</text>
<polygon class="tri" points="1515,2918 1511,2929 1519,2929"/><text x="1526" y="2929.5">[creates]</text>
<polygon class="tri" points="1702,2931 1695,2920 1704,2922"/><text x="1710.5" y="2929.5">[creates]</text>
</g>
</svg>
